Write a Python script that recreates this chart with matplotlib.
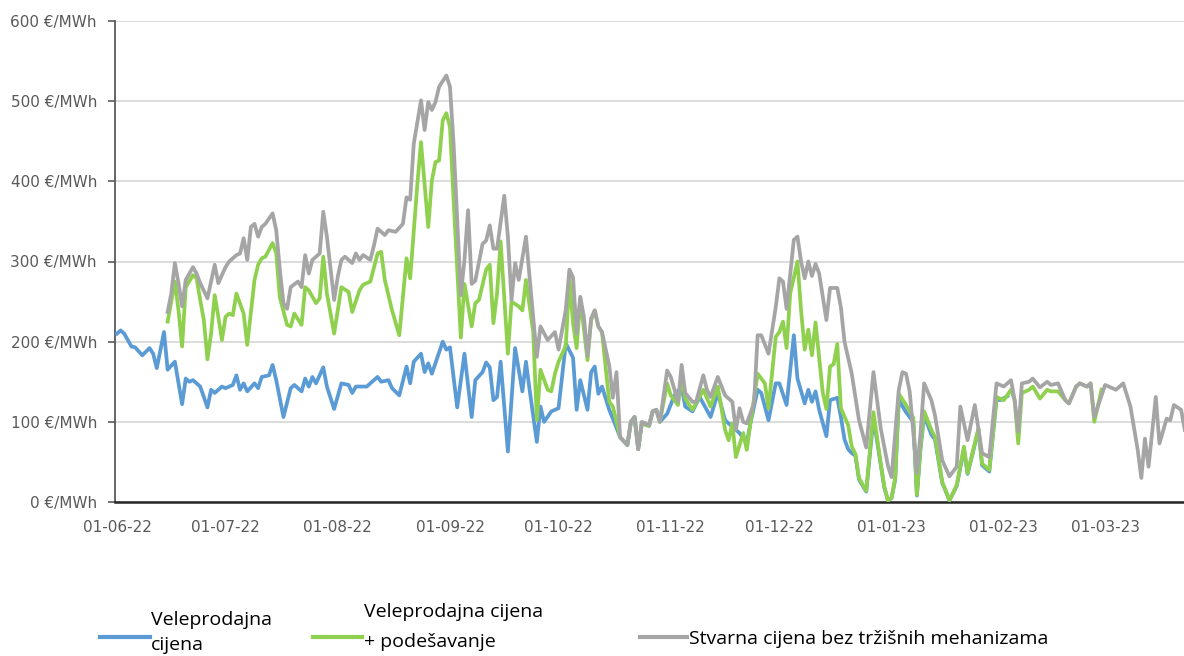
import numpy as np
import matplotlib
matplotlib.use("Agg")
import matplotlib.pyplot as plt
import matplotlib.dates as mdates
from matplotlib.lines import Line2D

# daily prices, days counted from 01-06-2022
start = np.datetime64("2022-06-01")

blue_days = [0, 1, 2, 4, 5, 7, 9, 10, 11, 13, 14, 16, 18, 19, 20, 21, 23, 25, 26, 27,
             29, 30, 32, 33, 34, 35, 36, 38, 39, 40, 42, 43, 44, 46, 48, 49, 51, 52, 53, 54,
             55, 57, 58, 60, 62, 64, 65, 66, 69, 72, 73, 75, 76, 78, 80, 81, 82, 84, 85, 86,
             87, 90, 91, 92, 94, 96, 98, 99, 101, 102, 103, 104, 105, 106, 108, 110, 112, 113, 114, 116,
             117, 118, 120, 122, 124, 126, 127, 128, 130, 131, 132, 133, 134, 136, 137, 139, 141, 142, 143, 144,
             145, 147, 148, 149, 150, 152, 154, 156, 157, 159, 161, 164, 166, 168, 170, 172, 174, 175, 177, 178,
             180, 182, 183, 185, 187, 188, 190, 191, 192, 193, 194, 196, 197, 199, 200, 201, 202, 203, 204, 205,
             207, 209, 211, 212, 213, 214, 215, 216, 218, 220, 221, 222, 223, 225, 226, 228, 230, 232, 234, 235,
             238, 239, 241, 243, 244, 246]
blue_vals = [210, 214, 210, 194, 193, 183, 192, 185, 167, 212, 165, 175, 122, 154, 150, 152, 144, 118, 140, 136,
             144, 142, 146, 158, 140, 148, 138, 148, 142, 156, 158, 171, 152, 106, 142, 146, 138, 154, 144, 156,
             148, 168, 144, 116, 148, 146, 136, 144, 144, 156, 150, 152, 142, 133, 169, 148, 175, 185, 162, 173,
             160, 200, 190, 193, 118, 185, 106, 152, 162, 174, 168, 127, 131, 175, 63, 192, 138, 175, 140, 75,
             119, 100, 113, 117, 198, 180, 115, 152, 115, 162, 169, 135, 144, 115, 104, 81, 71, 100, 106, 66,
             98, 95, 113, 115, 100, 110, 133, 144, 119, 113, 131, 106, 136, 102, 94, 86, 73, 98, 140, 136,
             102, 148, 148, 121, 208, 154, 123, 140, 125, 138, 115, 82, 127, 130, 106, 78, 66, 61, 58, 28,
             13, 105, 47, 18, 2, 5, 28, 127, 112, 100, 8, 66, 108, 84, 78, 24, 2, 20, 66, 35,
             90, 46, 38, 128, 127, 132]

green_days = [14, 15, 16, 17, 18, 19, 21, 22, 23, 24, 25, 26, 27, 28, 29, 30, 31, 32, 33, 35,
              36, 38, 39, 40, 41, 43, 44, 45, 47, 48, 49, 51, 52, 53, 55, 56, 57, 58, 60, 62,
              64, 65, 67, 68, 70, 72, 73, 74, 76, 78, 80, 81, 83, 84, 86, 87, 88, 89, 90, 91,
              92, 93, 95, 96, 98, 99, 100, 102, 103, 104, 105, 106, 108, 109, 111, 112, 113, 115, 116, 117,
              119, 120, 121, 122, 124, 125, 126, 127, 128, 130, 131, 132, 133, 134, 136, 137, 139, 141, 142, 143,
              144, 145, 147, 148, 149, 150, 152, 153, 155, 156, 157, 159, 162, 164, 166, 168, 169, 170, 171, 173,
              174, 175, 177, 179, 180, 182, 183, 184, 185, 186, 188, 189, 190, 191, 192, 193, 195, 196, 197, 198,
              199, 200, 202, 203, 204, 205, 207, 209, 211, 212, 213, 214, 215, 216, 218, 220, 221, 222, 223, 225,
              226, 228, 230, 232, 234, 235, 238, 239, 241, 243, 245, 247, 248, 249, 250, 252, 253, 255, 257, 258,
              260, 262, 263, 265, 266, 268, 269, 270, 272]
green_vals = [225, 250, 275, 239, 194, 268, 283, 279, 252, 227, 178, 210, 258, 231, 202, 231, 235, 233, 260, 235,
              196, 277, 296, 304, 306, 323, 310, 255, 221, 219, 235, 221, 268, 264, 248, 254, 306, 260, 210, 268,
              262, 237, 264, 271, 275, 310, 312, 277, 239, 208, 304, 279, 397, 449, 343, 401, 424, 426, 476, 485,
              468, 377, 205, 272, 219, 248, 252, 290, 296, 223, 260, 325, 185, 250, 244, 239, 277, 212, 102, 165,
              140, 138, 160, 175, 195, 279, 223, 192, 254, 177, 227, 239, 219, 212, 125, 119, 81, 71, 100, 106,
              66, 98, 95, 113, 115, 100, 148, 133, 121, 156, 129, 115, 140, 119, 144, 90, 77, 98, 56, 86,
              65, 98, 160, 148, 117, 206, 212, 225, 192, 260, 300, 239, 190, 215, 183, 224, 136, 116, 169, 172,
              197, 117, 96, 69, 60, 30, 14, 112, 48, 19, 2, 5, 30, 135, 121, 105, 9, 69, 113, 90,
              81, 25, 2, 21, 69, 36, 92, 48, 40, 131, 127, 140, 127, 73, 136, 140, 144, 129, 140, 138,
              138, 127, 123, 144, 148, 144, 148, 100, 140]

grey_days = [14, 15, 16, 17, 18, 19, 21, 22, 23, 25, 26, 27, 28, 30, 31, 33, 34, 35, 36, 37,
             38, 39, 40, 41, 43, 44, 45, 46, 47, 48, 50, 51, 52, 53, 54, 55, 56, 57, 58, 60,
             61, 62, 63, 65, 66, 67, 68, 70, 71, 72, 74, 75, 77, 79, 80, 81, 82, 84, 85, 86,
             87, 88, 89, 91, 92, 93, 95, 96, 97, 98, 99, 101, 102, 103, 104, 105, 107, 108, 109, 110,
             111, 113, 114, 116, 117, 119, 121, 122, 124, 125, 126, 127, 128, 129, 130, 131, 132, 133, 134, 136,
             137, 138, 139, 141, 142, 143, 144, 145, 147, 148, 149, 150, 152, 153, 155, 156, 157, 159, 160, 162,
             163, 164, 166, 168, 170, 171, 172, 173, 174, 176, 177, 178, 180, 182, 183, 184, 185, 187, 188, 189,
             190, 191, 192, 193, 194, 196, 197, 199, 200, 201, 203, 205, 207, 209, 211, 213, 214, 216, 217, 218,
             219, 221, 222, 223, 225, 226, 228, 230, 232, 233, 235, 237, 239, 241, 243, 245, 247, 248, 249, 250,
             252, 253, 255, 257, 258, 260, 262, 263, 265, 266, 268, 269, 270, 273, 274, 276, 278, 280, 282, 283,
             284, 285, 287, 288, 290, 291, 292, 294, 295]
grey_vals = [237, 260, 298, 273, 244, 277, 293, 285, 273, 254, 275, 296, 273, 293, 300, 308, 310, 329, 302, 343,
             347, 331, 343, 347, 360, 339, 290, 248, 241, 268, 275, 268, 308, 285, 302, 306, 310, 362, 331, 252,
             281, 302, 306, 298, 310, 302, 308, 302, 320, 341, 333, 339, 337, 347, 380, 377, 447, 501, 464, 499,
             489, 499, 518, 532, 518, 447, 258, 302, 364, 272, 276, 322, 326, 345, 316, 316, 382, 331, 252, 298,
             277, 331, 280, 181, 219, 202, 212, 190, 240, 290, 280, 210, 256, 231, 182, 229, 239, 219, 212, 170,
             130, 162, 81, 71, 100, 106, 66, 100, 96, 113, 115, 100, 164, 156, 125, 171, 136, 125, 125, 158,
             140, 131, 156, 133, 125, 90, 117, 100, 98, 123, 208, 208, 185, 243, 279, 275, 241, 327, 331, 300,
             279, 300, 282, 297, 285, 227, 267, 267, 243, 200, 160, 102, 68, 162, 92, 45, 31, 140, 162, 160,
             138, 36, 86, 148, 127, 108, 52, 32, 44, 119, 77, 121, 61, 56, 148, 144, 152, 127, 88, 148,
             150, 154, 143, 150, 146, 148, 127, 123, 144, 148, 144, 148, 106, 146, 144, 140, 148, 119, 65, 30,
             79, 44, 131, 73, 104, 102, 121, 115, 90]

labels = ["Veleprodajna\ncijena", "Veleprodajna cijena\n+ podešavanje",
          "Stvarna cijena bez tržišnih mehanizama"]
colors = ["#5B9BD5", "#8FD14F", "#A5A5A5"]


def to_dates(days):
    return start + np.array(days).astype("timedelta64[D]")


fig = plt.figure(figsize=(11.84, 6.56), dpi=100)
ax = fig.add_axes([115 / 1184, 1 - 502 / 656, 1 - 115 / 1184, (502 - 21) / 656])

for d, v, c in zip([blue_days, green_days, grey_days], [blue_vals, green_vals, grey_vals], colors):
    ax.plot(to_dates(d), v, color=c, lw=2.7, solid_joinstyle="round", zorder=3)

ax.set_ylim(0, 600)
ax.set_xlim(start - np.timedelta64(13, "h"), start + np.timedelta64(7075, "h"))
ax.set_yticks(range(0, 601, 100))
ax.set_yticklabels([f"{v} €/MWh" for v in range(0, 601, 100)])
ax.xaxis.set_major_locator(mdates.MonthLocator())
ax.xaxis.set_major_formatter(mdates.DateFormatter("%d-%m-%y"))

ax.grid(axis="y", color="#D9D9D9", lw=1.3, zorder=0)
for s in ["top", "right"]:
    ax.spines[s].set_visible(False)
ax.spines["left"].set_color("#595959")
ax.spines["left"].set_linewidth(1.3)
ax.spines["bottom"].set_color("#262626")
ax.spines["bottom"].set_linewidth(1.8)
ax.tick_params(axis="y", length=5, width=1.2, color="#595959", pad=8,
               labelsize=11, labelcolor="#595959")
ax.tick_params(axis="x", length=0, pad=13, labelsize=11, labelcolor="#595959")

# legend drawn by hand under the plot
def px(x, y):
    return x / 1184, 1 - y / 656


handles = [(100, 150), (313, 362), (640, 687)]
for (x0, x1), c in zip(handles, colors):
    (a, b), (e, _) = px(x0, 637), px(x1, 637)
    fig.add_artist(Line2D([a, e], [b, b], color=c, lw=3, transform=fig.transFigure))

legend_font = dict(fontsize=14, family="Open Sans", color="#000000", va="center", ha="left")
fig.text(*px(151, 620), labels[0].split("\n")[0], **legend_font)
fig.text(*px(151, 645), labels[0].split("\n")[1], **legend_font)
fig.text(*px(364, 612), labels[1].split("\n")[0], **legend_font)
fig.text(*px(364, 642), labels[1].split("\n")[1], **legend_font)
fig.text(*px(689, 639), labels[2], **legend_font)

fig.savefig("out.png", dpi=100)
